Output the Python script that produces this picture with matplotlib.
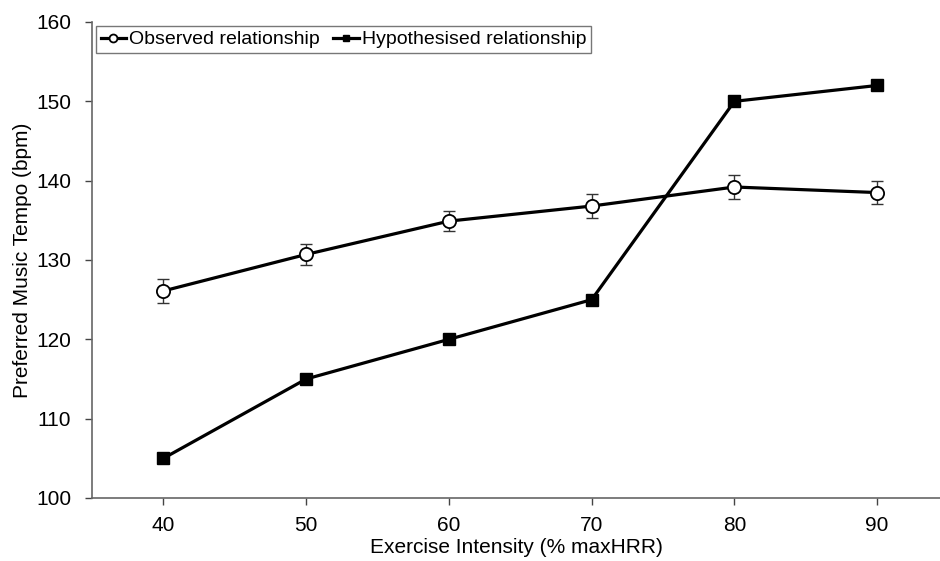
import matplotlib
matplotlib.use("Agg")
import matplotlib.pyplot as plt

intensity = ["40", "50", "60", "70", "80", "90"]
observed = [126.1, 130.7, 134.9, 136.8, 139.2, 138.5]
observed_err = [1.5, 1.3, 1.3, 1.5, 1.5, 1.5]
hypothesised = [105, 115, 120, 125, 150, 152]

plt.rcParams["font.family"] = ["Liberation Sans", "DejaVu Sans"]

fig = plt.figure(figsize=(9.40, 5.61), dpi=100)
ax = fig.add_axes([0.0979, 0.1123, 0.9021, 0.8485])

x = list(range(len(intensity)))
ax.errorbar(x, observed, yerr=observed_err, fmt="none", ecolor="#333333",
            elinewidth=1.0, capsize=4, capthick=1.0, zorder=2)
ax.plot(x, observed, color="black", lw=2.3, marker="o", ms=9.5,
        mfc="white", mec="black", mew=1.3, label="Observed relationship", zorder=3)
ax.plot(x, hypothesised, color="black", lw=2.3, marker="s", ms=8,
        mfc="black", mec="black", label="Hypothesised relationship", zorder=3)

ax.set_xlim(-0.5, 5.44)
ax.set_ylim(100, 160)
ax.set_xticks(x)
ax.set_xticklabels(intensity)
ax.set_yticks(range(100, 161, 10))
ax.tick_params(axis="both", labelsize=15, colors="#444444", labelcolor="black",
               length=5, width=1)
ax.tick_params(axis="x", pad=8)
ax.tick_params(axis="y", pad=10)

for side in ["top", "right"]:
    ax.spines[side].set_visible(False)
for side in ["left", "bottom"]:
    ax.spines[side].set_color("#666666")
    ax.spines[side].set_linewidth(1.2)

ax.set_xlabel("Exercise Intensity (% maxHRR)", fontsize=15, labelpad=2)
ax.set_ylabel("Preferred Music Tempo (bpm)", fontsize=15, labelpad=3)

leg = ax.legend(loc="upper left", bbox_to_anchor=(0.0, 1.0), ncol=2, fontsize=14,
                frameon=True, fancybox=False, edgecolor="#555555",
                handlelength=1.3, handletextpad=0.15, columnspacing=0.7,
                borderpad=0.25, borderaxespad=0.2, markerscale=0.6)
leg.get_frame().set_linewidth(1.0)

fig.savefig("out.png", dpi=100)
